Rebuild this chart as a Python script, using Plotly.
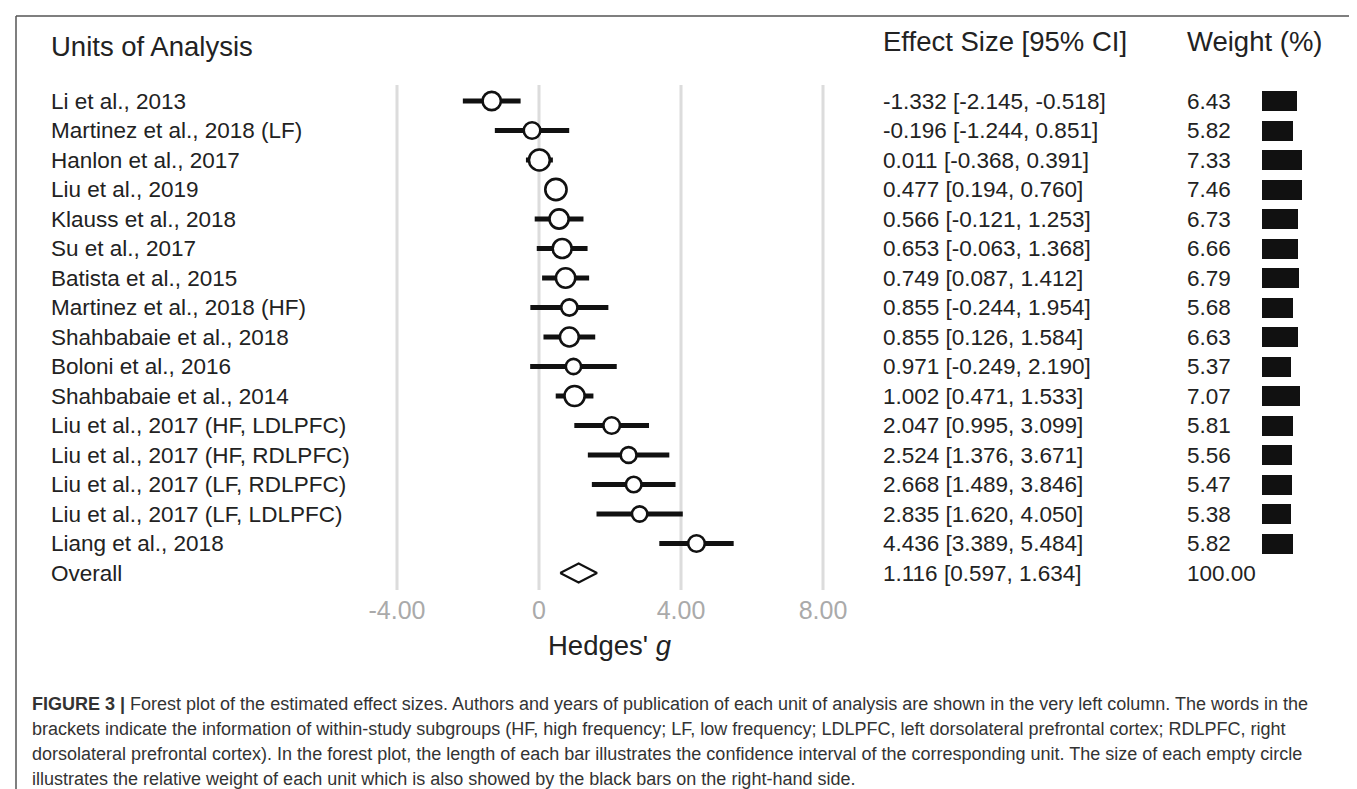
import plotly.graph_objects as go

# ---------------- data ----------------
units = [
    "Li et al., 2013",
    "Martinez et al., 2018 (LF)",
    "Hanlon et al., 2017",
    "Liu et al., 2019",
    "Klauss et al., 2018",
    "Su et al., 2017",
    "Batista et al., 2015",
    "Martinez et al., 2018 (HF)",
    "Shahbabaie et al., 2018",
    "Boloni et al., 2016",
    "Shahbabaie et al., 2014",
    "Liu et al., 2017 (HF, LDLPFC)",
    "Liu et al., 2017 (HF, RDLPFC)",
    "Liu et al., 2017 (LF, RDLPFC)",
    "Liu et al., 2017 (LF, LDLPFC)",
    "Liang et al., 2018",
]
effect = [-1.332, -0.196, 0.011, 0.477, 0.566, 0.653, 0.749, 0.855, 0.855, 0.971,
          1.002, 2.047, 2.524, 2.668, 2.835, 4.436]
ci_low = [-2.145, -1.244, -0.368, 0.194, -0.121, -0.063, 0.087, -0.244, 0.126, -0.249,
          0.471, 0.995, 1.376, 1.489, 1.620, 3.389]
ci_high = [-0.518, 0.851, 0.391, 0.760, 1.253, 1.368, 1.412, 1.954, 1.584, 2.190,
           1.533, 3.099, 3.671, 3.846, 4.050, 5.484]
weights = [6.43, 5.82, 7.33, 7.46, 6.73, 6.66, 6.79, 5.68, 6.63, 5.37,
           7.07, 5.81, 5.56, 5.47, 5.38, 5.82]

overall_label = "Overall"
overall_effect = 1.116
overall_low = 0.597
overall_high = 1.634
overall_weight = 100.00

tick_vals = [-4, 0, 4, 8]
tick_text = ["-4.00", "0", "4.00", "8.00"]

caption_lines = [
    "<b>FIGURE 3 |</b> Forest plot of the estimated effect sizes. Authors and years of publication of each unit of analysis are shown in the very left column. The words in the",
    "brackets indicate the information of within-study subgroups (HF, high frequency; LF, low frequency; LDLPFC, left dorsolateral prefrontal cortex; RDLPFC, right",
    "dorsolateral prefrontal cortex). In the forest plot, the length of each bar illustrates the confidence interval of the corresponding unit. The size of each empty circle",
    "illustrates the relative weight of each unit which is also showed by the black bars on the right-hand side.",
]

# ---------------- layout constants ----------------
W, H = 1357, 789
ROW0 = 93.0      # px of first row
STEP = 29.5      # px between rows
PLOT_BOTTOM = 585.0
FONT = "Liberation Sans, Arial, sans-serif"
TXT = "#222222"


def px(x):
    return x / W


def py(y):
    return 1 - y / H


n = len(units)
rows = list(range(n))
overall_row = n

y_top = (0 - ROW0) / STEP
y_bot = (PLOT_BOTTOM - ROW0) / STEP

fig = go.Figure()

# CI lines (drawn beneath the circles)
ci_x, ci_y = [], []
for lo, hi, r in zip(ci_low, ci_high, rows):
    ci_x += [lo, hi, None]
    ci_y += [r, r, None]
fig.add_trace(go.Scatter(
    x=ci_x, y=ci_y, mode="lines", line=dict(color="#111111", width=5),
    hoverinfo="skip", showlegend=False,
))

# circles
fig.add_trace(go.Scatter(
    x=effect, y=rows, mode="markers",
    marker=dict(symbol="circle", size=[w * 2.85 for w in weights], color="white",
                opacity=1, line=dict(color="#111111", width=2.6)),
    hoverinfo="skip", showlegend=False, cliponaxis=False,
))

# overall diamond
hd = 9.5 / STEP
fig.add_trace(go.Scatter(
    x=[overall_low, overall_effect, overall_high, overall_effect, overall_low],
    y=[overall_row, overall_row - hd, overall_row, overall_row + hd, overall_row],
    mode="lines", fill="toself", fillcolor="white",
    line=dict(color="#111111", width=2), hoverinfo="skip", showlegend=False,
))

# weight bars
fig.add_trace(go.Bar(
    x=weights, y=rows, orientation="h", width=20 / STEP,
    marker=dict(color="#111111", line=dict(width=0)),
    xaxis="x2", yaxis="y", hoverinfo="skip", showlegend=False,
))

shapes = []
# grid lines
for t in tick_vals:
    shapes.append(dict(type="line", xref="x", yref="y", x0=t, x1=t,
                       y0=(77 - ROW0) / STEP, y1=(582 - ROW0) / STEP,
                       line=dict(color="#dcdcdc", width=3), layer="below"))
# frame
frame = dict(color="#555555", width=1.5)
shapes.append(dict(type="line", xref="paper", yref="paper", x0=px(8), x1=px(8), y0=py(8), y1=-0.05, line=frame))
shapes.append(dict(type="line", xref="paper", yref="paper", x0=px(8), x1=px(1355), y0=py(8), y1=py(8), line=frame))
shapes.append(dict(type="line", xref="paper", yref="paper", x0=px(1355), x1=px(1355), y0=py(8), y1=-0.05, line=frame))

ann = []
row_font = dict(family=FONT, size=22.5, color=TXT)
head_font = dict(family=FONT, size=27.5, color=TXT)

ann.append(dict(text="Units of Analysis", xref="paper", yref="paper", x=px(41), y=py(38),
                xanchor="left", yanchor="middle", showarrow=False, font=head_font))
ann.append(dict(text="Effect Size [95% CI]", xref="paper", yref="paper", x=px(873), y=py(34),
                xanchor="left", yanchor="middle", showarrow=False, font=head_font))
ann.append(dict(text="Weight (%)", xref="paper", yref="paper", x=px(1177), y=py(34),
                xanchor="left", yanchor="middle", showarrow=False, font=head_font))

labels_all = units + [overall_label]
eff_all = effect + [overall_effect]
lo_all = ci_low + [overall_low]
hi_all = ci_high + [overall_high]
w_all = weights + [overall_weight]
for i in range(n + 1):
    ann.append(dict(text=labels_all[i], xref="paper", yref="y", x=px(41), y=i,
                    xanchor="left", yanchor="middle", showarrow=False, font=row_font))
    ann.append(dict(text=f"{eff_all[i]:.3f} [{lo_all[i]:.3f}, {hi_all[i]:.3f}]",
                    xref="paper", yref="y", x=px(873), y=i,
                    xanchor="left", yanchor="middle", showarrow=False, font=row_font))
    ann.append(dict(text=f"{w_all[i]:.2f}", xref="paper", yref="y", x=px(1177), y=i,
                    xanchor="left", yanchor="middle", showarrow=False, font=row_font))

# axis title
ann.append(dict(text="Hedges' <i>g</i>", xref="x", yref="paper", x=2, y=py(637),
                xanchor="center", yanchor="middle", showarrow=False,
                font=dict(family=FONT, size=27.5, color=TXT)))

# caption
cap_y = [696, 721, 746, 771]
for line, yy in zip(caption_lines, cap_y):
    ann.append(dict(text=line, xref="paper", yref="paper", x=px(22), y=py(yy),
                    xanchor="left", yanchor="middle", showarrow=False,
                    font=dict(family=FONT, size=18, color="#333333")))

fig.update_layout(
    width=W, height=H,
    margin=dict(l=0, r=0, t=0, b=0),
    paper_bgcolor="white", plot_bgcolor="white",
    xaxis=dict(domain=[px(318), px(886)], range=[-6, 10], showgrid=False, zeroline=False,
               showline=False, ticks="", tickvals=tick_vals, ticktext=tick_text,
               tickfont=dict(family=FONT, size=25, color="#aaaaaa"), fixedrange=True),
    xaxis2=dict(domain=[px(1254), px(1354)], range=[0, 100 / 5.4], visible=False,
                anchor="y", fixedrange=True),
    yaxis=dict(domain=[py(PLOT_BOTTOM), 1], range=[y_bot, y_top], visible=False,
               fixedrange=True),
    shapes=shapes, annotations=ann, showlegend=False, bargap=0,
)

fig.write_html("out.html")
